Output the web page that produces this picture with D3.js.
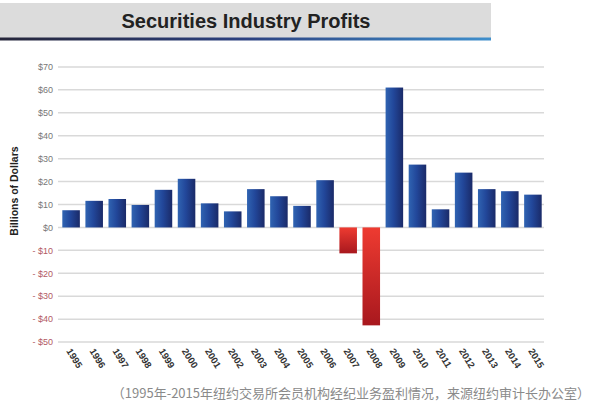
<!DOCTYPE html>
<html><head><meta charset="utf-8">
<script src="https://cdn.jsdelivr.net/npm/d3@7"></script>
<style>body{margin:0;background:#fff}svg{display:block}</style>
</head><body>
<script>
const years = ["1995","1996","1997","1998","1999","2000","2001","2002","2003","2004","2005","2006","2007","2008","2009","2010","2011","2012","2013","2014","2015"];
const profits = [7.5,11.6,12.4,9.8,16.4,21.2,10.5,7.0,16.7,13.6,9.4,20.6,-11.3,-42.7,61.0,27.4,7.9,23.9,16.7,15.8,14.3];
const yTicks = [70,60,50,40,30,20,10,0,-10,-20,-30,-40,-50];
const title = "Securities Industry Profits";
const yTitle = "Billions of Dollars";
const caption = "（1995年-2015年纽约交易所会员机构经纪业务盈利情况，来源纽约审计长办公室）";

const W=596,H=406;
const svg=d3.select("body").append("svg").attr("width",W).attr("height",H);
const defs=svg.append("defs");
const bg=defs.append("linearGradient").attr("id","blueG").attr("x1","0").attr("x2","1").attr("y1","0").attr("y2","0");
bg.append("stop").attr("offset","0").attr("stop-color","#3064b2");
bg.append("stop").attr("offset","0.45").attr("stop-color","#22479a");
bg.append("stop").attr("offset","1").attr("stop-color","#1a2a68");
const rg=defs.append("linearGradient").attr("id","redG").attr("x1","0").attr("x2","0").attr("y1","0").attr("y2","1");
rg.append("stop").attr("offset","0").attr("stop-color","#ee3b31");
rg.append("stop").attr("offset","1").attr("stop-color","#a8181e");
const lg=defs.append("linearGradient").attr("id","lineG").attr("x1","0").attr("x2","1").attr("y1","0").attr("y2","0");
lg.append("stop").attr("offset","0").attr("stop-color","#26263a");
lg.append("stop").attr("offset","0.5").attr("stop-color","#2c4180");
lg.append("stop").attr("offset","1").attr("stop-color","#3f8fcc");

// title band
svg.append("rect").attr("x",0).attr("y",3).attr("width",491).attr("height",35).attr("fill","#dcdcdc");
svg.append("rect").attr("x",0).attr("y",37.5).attr("width",491).attr("height",3).attr("fill","url(#lineG)");
svg.append("text").attr("x",246).attr("y",28).attr("text-anchor","middle")
  .attr("font-family","Liberation Sans, Arial, sans-serif").attr("font-weight","bold").attr("font-size",20)
  .attr("fill","#222").text(title);

const y=d3.scaleLinear().domain([-50,70]).range([342.1,66.9]);
const x=d3.scaleBand().domain(years).range([60,544]).paddingInner(0.24).paddingOuter(0.1);

// gridlines
svg.append("g").selectAll("line").data(yTicks).join("line")
  .attr("x1",58).attr("x2",544).attr("y1",d=>y(d)).attr("y2",d=>y(d))
  .attr("stroke","#d9d9d9").attr("stroke-width",1.5);

// y labels
svg.append("g").selectAll("text").data(yTicks).join("text")
  .attr("x",53).attr("y",d=>y(d)+3.2).attr("text-anchor","end")
  .attr("font-family","Liberation Sans, Arial, sans-serif").attr("font-size",9)
  .attr("fill",d=>d<0?"#b25a64":"#777")
  .text(d=>d<0?"- $"+(-d):"$"+d);

// y title
svg.append("text").attr("transform","translate(18,191) rotate(-90)").attr("text-anchor","middle")
  .attr("font-family","Liberation Sans, Arial, sans-serif").attr("font-weight","bold").attr("font-size",10.5)
  .attr("fill","#222").text(yTitle);

// bars
svg.append("g").selectAll("rect").data(years).join("rect")
  .attr("x",d=>x(d)).attr("width",x.bandwidth())
  .attr("y",(d,i)=>y(Math.max(0,profits[i])))
  .attr("height",(d,i)=>Math.abs(y(profits[i])-y(0)))
  .attr("fill",(d,i)=>profits[i]<0?"url(#redG)":"url(#blueG)");

// x labels
svg.append("g").selectAll("text").data(years).join("text")
  .attr("transform",d=>`translate(${x(d)+x.bandwidth()/2-5},${351}) rotate(58)`)
  .attr("text-anchor","start")
  .attr("font-family","Liberation Sans, Arial, sans-serif").attr("font-weight","bold").attr("font-size",9.5)
  .attr("fill","#333").text(d=>d);

// caption
svg.append("text").attr("x",590).attr("y",398).attr("text-anchor","end")
  .attr("font-family","Noto Sans CJK SC, sans-serif").attr("font-size",13)
  .attr("fill","#8a8a8a").text(caption);
</script>
</body></html>
